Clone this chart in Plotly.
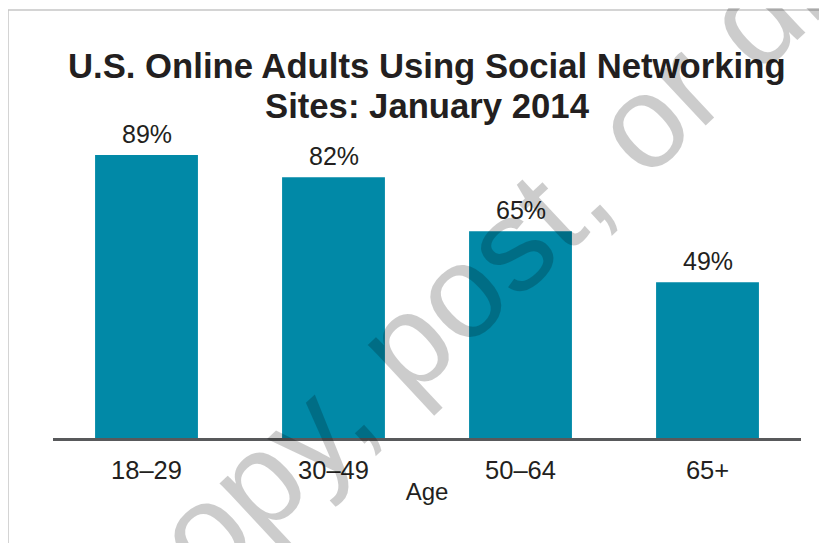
import plotly.graph_objects as go

categories = ["18–29", "30–49", "50–64", "65+"]
values = [89, 82, 65, 49]
labels = ["89%", "82%", "65%", "49%"]
title_lines = ["U.S. Online Adults Using Social Networking", "Sites: January 2014"]
x_title = "Age"
watermark = "Do not copy, post, or distribute"

# page offset of the figure inside the browser body (8px default margin)
OFF = 8
W, H = 827 - OFF, 543 - OFF
L, R, T, B = 53 - OFF, 26, 120 - OFF, 105
plot_h = H - T - B
plot_w = W - L - R

def px_x(x):
    return (x - OFF - L) / plot_w

def px_y(y):
    return (H - B - (y - OFF)) / plot_h

FONT = "Liberation Sans, Arial, Helvetica, sans-serif"
TXT = "#231F20"

fig = go.Figure()
fig.add_trace(go.Bar(
    x=categories, y=values,
    marker=dict(color="#0189A7", line=dict(width=0)),
    hoverinfo="skip",
))

annotations = [
    dict(text=title_lines[0], x=0.5, y=px_y(66), xref="paper", yref="paper",
         xanchor="center", yanchor="middle", showarrow=False,
         font=dict(size=34.7, color=TXT, family=FONT, weight="bold")),
    dict(text=title_lines[1], x=0.5, y=px_y(106), xref="paper", yref="paper",
         xanchor="center", yanchor="middle", showarrow=False,
         font=dict(size=34.7, color=TXT, family=FONT, weight="bold")),
]
for c, v, t in zip(categories, values, labels):
    annotations.append(dict(text=t, x=c, y=v, xref="x", yref="y",
                            xanchor="center", yanchor="bottom", yshift=5,
                            showarrow=False,
                            font=dict(size=25, color=TXT, family=FONT)))
annotations.append(
    dict(text=watermark, x=px_x(467), y=px_y(285), xref="paper", yref="paper",
         xanchor="center", yanchor="middle", showarrow=False, textangle=-43,
         font=dict(size=132, color="rgba(0,0,0,0.2)", family=FONT)))

fig.update_layout(
    width=W, height=H,
    margin=dict(l=L, r=R, t=T, b=B, pad=0),
    paper_bgcolor="white", plot_bgcolor="white",
    showlegend=False,
    bargap=0.45,
    font=dict(family=FONT, color=TXT),
    annotations=annotations,
    shapes=[dict(type="rect", xref="paper", yref="paper",
                 x0=px_x(8), x1=1.2, y0=-0.6, y1=px_y(10),
                 line=dict(color="#c6c6c6", width=1.5), layer="below")],
    xaxis=dict(showline=True, linecolor="#58595B", linewidth=2.5,
               showgrid=False, zeroline=False, ticks="",
               ticklabelstandoff=8,
               tickfont=dict(size=25.5, color=TXT, family=FONT),
               title=dict(text=x_title, font=dict(size=24, color=TXT, family=FONT), standoff=0)),
    yaxis=dict(visible=False, range=[0, 100], fixedrange=True),
)

fig.write_html("out.html")
